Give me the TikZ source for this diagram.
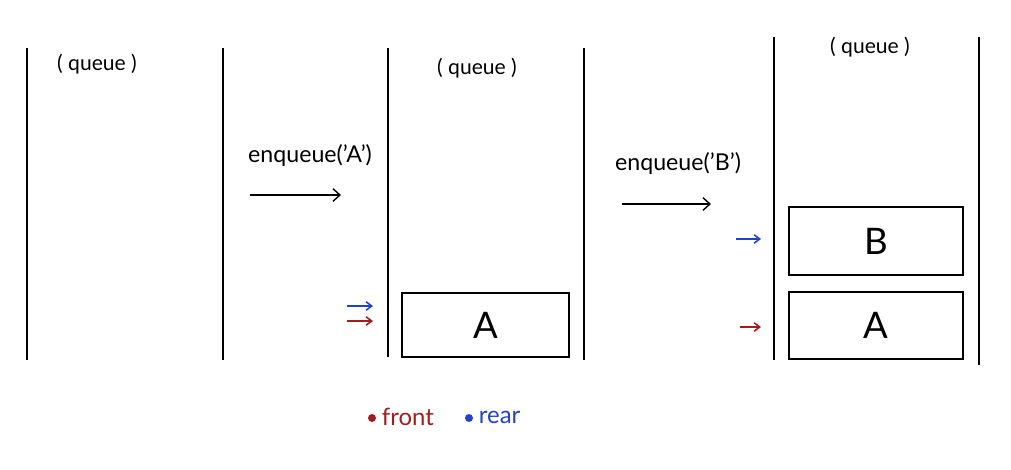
\documentclass[tikz,border=0pt]{standalone}
\usepackage{fontspec}
\setmainfont{Lato}
\usetikzlibrary{arrows.meta}
\definecolor{frontred}{RGB}{160,30,30}
\definecolor{rearblue}{RGB}{35,65,205}
\begin{document}
\begin{tikzpicture}[x=0.025cm,y=-0.025cm,every node/.style={font=\fontsize{15}{17}\selectfont},
  wall/.style={line width=1.4pt},
  cell/.style={draw,line width=1.3pt,minimum width=167*0.025cm,minimum height=64*0.025cm,font=\fontsize{26}{28}\selectfont},
  ptr/.style={-{Straight Barb[length=4pt,width=6pt]},line width=1.1pt}]
\useasboundingbox (0,0) rectangle (1011,469);
\draw[wall] (27,48) -- (27,360);
\draw[wall] (223,48) -- (223,360);
\node (q1) at (97,64) {( queue )};
\draw[wall] (388,48) -- (388,357);
\draw[wall] (584,48) -- (584,360);
\node (q2) at (477,68) {( queue )};
\draw[wall] (774,37) -- (774,360);
\draw[wall] (979,37) -- (979,365);
\node (q3) at (870,47) {( queue )};
\node[font=\fontsize{16.5}{18}\selectfont] (opa) at (310,155) {enqueue('A')};
\coordinate (opa1) at (250,195);
\coordinate (opa2) at (341,195);
\draw[-{Straight Barb[length=5pt,width=9pt]},line width=1pt] (opa1) -- (opa2);
\node[font=\fontsize{16.5}{18}\selectfont] (opb) at (678,163) {enqueue('B')};
\coordinate (opb1) at (622,204);
\coordinate (opb2) at (711,204);
\draw[-{Straight Barb[length=5pt,width=9pt]},line width=1pt] (opb1) -- (opb2);
\node[cell] (a1) at (485.5,325) {A};
\coordinate (r1s) at (347,306);
\coordinate (r1e) at (373,306);
\coordinate (f1s) at (347,321);
\coordinate (f1e) at (373,321);
\draw[ptr,rearblue] (r1s) -- (r1e);
\draw[ptr,frontred] (f1s) -- (f1e);
\node[cell,minimum width=174*0.025cm,minimum height=68*0.025cm] (b2) at (876,241) {B};
\node[cell,minimum width=174*0.025cm,minimum height=67*0.025cm] (a2) at (876,325.5) {A};
\coordinate (r2s) at (736,239);
\coordinate (r2e) at (761,239);
\coordinate (f2s) at (740,327);
\coordinate (f2e) at (761,327);
\draw[ptr,rearblue] (r2s) -- (r2e);
\draw[ptr,frontred] (f2s) -- (f2e);
\fill[frontred] (372,418) circle (4);
\node[text=frontred,anchor=west,font=\fontsize{17}{19}\selectfont] (fr) at (377,417) {front};
\fill[rearblue] (469,418) circle (4);
\node[text=rearblue,anchor=west,font=\fontsize{17}{19}\selectfont] (re) at (474,417) {rear};
\end{tikzpicture}
\end{document}
